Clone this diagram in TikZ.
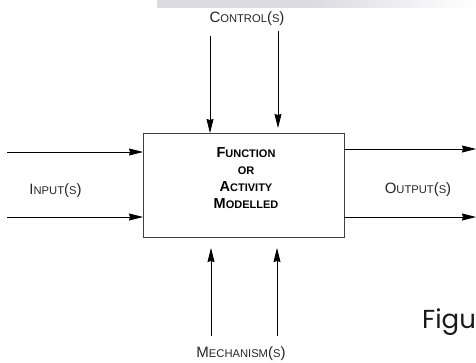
\documentclass[tikz,border=0pt]{standalone}
\usepackage{fontspec}
\setmainfont{Liberation Sans}
\newfontfamily\figfont{Poppins}
\usetikzlibrary{arrows.meta}
% fake small caps: reduced-size capitals
\newcommand\smc[1]{{\fontsize{11.2}{12}\selectfont #1}}
\newcommand\smb[1]{{\fontsize{11}{12}\selectfont #1}}
\definecolor{bandgray}{RGB}{218,218,224}
\tikzset{
  flow/.style={draw=black, line width=0.8pt, -{Stealth[length=14pt,width=7pt,inset=1pt]}},
  lbl/.style={font=\fontsize{15}{17}\selectfont, inner sep=0pt, text=black!85},
  funcbox/.style={draw=black!75, line width=0.9pt, minimum width=201pt, minimum height=104pt, inner sep=0pt},
}
\begin{document}
\begin{tikzpicture}[x=1pt, y=-1pt]
\useasboundingbox (0,0) rectangle (476,362);
% faint grey band along the top edge
\fill[bandgray] (157,0) rectangle (306,8);
\shade[left color=bandgray, right color=white, draw=none] (305,0) rectangle (476,7);

% the activity box
\node[funcbox] (box) at (243.5,185) {};
\node[align=center, font=\bfseries\fontsize{14.5}{17}\selectfont, inner sep=0pt] (title) at (246,178)
  {F\smb{UNCTION}\\\smb{OR}\\A\smb{CTIVITY}\\M\smb{ODELLED}};

% controls
\coordinate (c1) at (210,36);
\coordinate (c2) at (278,31);
\coordinate (c1e) at (210,133);
\coordinate (c2e) at (278,128);
\draw[flow] (c1) -- (c1e);
\draw[flow] (c2) -- (c2e);
\node[lbl] (ctl) at (247,19) {C\smc{ONTROL}(\smc{S})};

% inputs
\coordinate (i1) at (7,152);
\coordinate (i2) at (7,217);
\coordinate (i1e) at (143,152);
\coordinate (i2e) at (143,217);
\draw[flow] (i1) -- (i1e);
\draw[flow] (i2) -- (i2e);
\node[lbl] (inp) at (55.5,191) {I\smc{NPUT}(\smc{S})};

% outputs
\coordinate (o1s) at (344,149);
\coordinate (o2s) at (344,217);
\coordinate (o1) at (476,149);
\coordinate (o2) at (476,217);
\draw[flow] (o1s) -- (o1);
\draw[flow] (o2s) -- (o2);
\node[lbl] (out) at (418,190) {O\smc{UTPUT}(\smc{S})};

% mechanisms
\coordinate (m1) at (211,336);
\coordinate (m2) at (277,336);
\coordinate (m1e) at (211,248);
\coordinate (m2e) at (277,248);
\draw[flow] (m1) -- (m1e);
\draw[flow] (m2) -- (m2e);
\node[lbl] (mech) at (241,354) {M\smc{ECHANISM}(\smc{S})};

% caption fragment
\node[anchor=base west, inner sep=0pt, font=\figfont\fontsize{26}{28}\selectfont, text=black!90] (fig) at (422,328) {Figu};
\end{tikzpicture}
\end{document}
